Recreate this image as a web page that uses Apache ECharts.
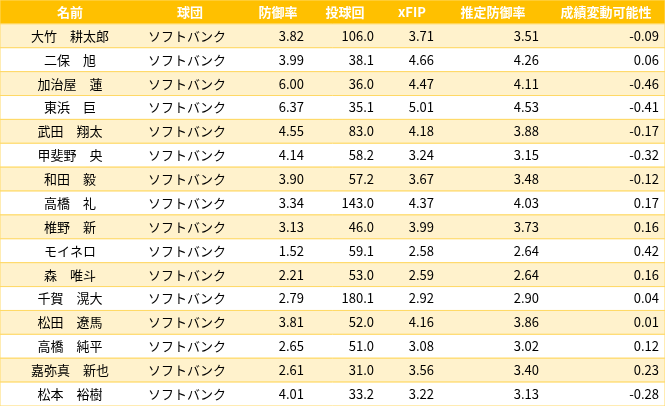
<!DOCTYPE html>
<html><head><meta charset="utf-8">
<script src="https://cdn.jsdelivr.net/npm/echarts@6/dist/echarts.min.js"></script>
<style>html,body{margin:0;padding:0;background:#fff}#c{width:665px;height:406px}</style>
</head><body><div id="c"></div>
<script>
const headers = ['名前','球団','防御率','投球回','xFIP','推定防御率','成績変動可能性'];
const names = ['大竹　耕太郎','二保　旭','加治屋　蓮','東浜　巨','武田　翔太','甲斐野　央','和田　毅','高橋　礼','椎野　新','モイネロ','森　唯斗','千賀　滉大','松田　遼馬','高橋　純平','嘉弥真　新也','松本　裕樹'];
const teams = names.map(()=> 'ソフトバンク');
const era = ['3.82','3.99','6.00','6.37','4.55','4.14','3.90','3.34','3.13','1.52','2.21','2.79','3.81','2.65','2.61','4.01'];
const ip = ['106.0','38.1','36.0','35.1','83.0','58.2','57.2','143.0','46.0','59.1','53.0','180.1','52.0','51.0','31.0','33.2'];
const xfip = ['3.71','4.66','4.47','5.01','4.18','3.24','3.67','4.37','3.99','2.58','2.59','2.92','4.16','3.08','3.56','3.22'];
const estEra = ['3.51','4.26','4.11','4.53','3.88','3.15','3.48','4.03','3.73','2.64','2.64','2.90','3.86','3.02','3.40','3.13'];
const change = ['-0.09','0.06','-0.46','-0.41','-0.17','-0.32','-0.12','0.17','0.16','0.42','0.16','0.04','0.01','0.12','0.23','-0.28'];

const edges = [0,140,245,310,380,440,545,665];
const headerX = [70,190,278,345,412,493,606];
const rows = [headers].concat(names.map((n,i)=>[n,teams[i],era[i],ip[i],xfip[i],estEra[i],change[i]]));
const data = rows.map((r,i)=>[i].concat(r));
const chart = echarts.init(document.getElementById('c'));
chart.setOption({
  animation:false,
  grid:{left:0,right:0,top:0,bottom:0},
  xAxis:{type:'value',min:0,max:665,show:false},
  yAxis:{type:'category',data:rows.map((r,i)=>i),inverse:true,show:false,boundaryGap:true},
  series:[{type:'custom',data:data,renderItem:function(params,api){
    const i = api.value(0);
    const top = api.coord([0,i]);
    const h = api.size([0,1])[1];
    const y0 = top[1]-h/2;
    const r = rows[i];
    const ch = [];
    const bg = i===0 ? '#FFC000' : (i%2===1 ? '#FFF2CC' : '#FFFFFF');
    ch.push({type:'rect',shape:{x:0,y:y0,width:665,height:h},style:{fill:bg,stroke:'#FFD966',lineWidth:1}});
    for(let c=0;c<7;c++){
      let x, align;
      if(i===0){x=headerX[c];align='center';}
      else if(c===0){x=70;align='center';}
      else if(c===1){x=148;align='left';}
      else {x=edges[c+1]-6;align='right';}
      ch.push({type:'text',style:{text:r[c],x:x,y:y0+h/2,align:align,verticalAlign:'middle',
        fill:i===0?'#FFFFFF':'#000000',fontSize:13,fontWeight:i===0?'bold':'normal',
        fontFamily:'"Noto Sans CJK JP", sans-serif'}});
    }
    return {type:'group',children:ch};
  }}]
});
</script></body></html>
